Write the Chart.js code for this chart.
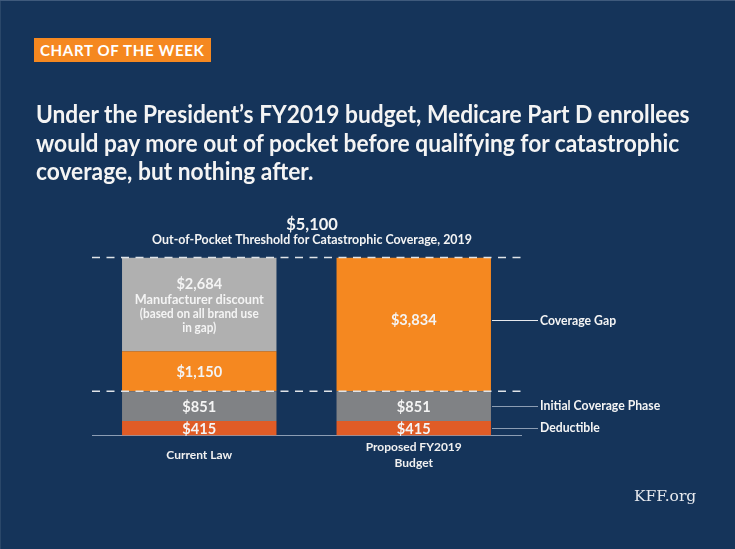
<!DOCTYPE html>
<html>
<head>
<meta charset="utf-8">
<script src="https://cdn.jsdelivr.net/npm/chart.js@4"></script>
<style>
  html, body { margin: 0; padding: 0; background: #15345a; }
  #wrap { position: relative; width: 735px; height: 549px; overflow: hidden; background: #15345a; box-shadow: inset 0 1px 0 #3f5a7c, inset 1px 0 0 #2a4769; }
  #badge { position: absolute; left: 34px; top: 38px; width: 177px; height: 24px; background: #f58820; }
  #badge span { position: absolute; left: 6px; top: 0; color: #fff; font: 700 16px/24px Lato, sans-serif; white-space: nowrap; letter-spacing: 0.7px; transform: scaleX(0.94); transform-origin: left center; }
  #headline { position: absolute; left: 36px; top: 100px; color: #f4f4f4; font: 700 24px/28.5px Lato, sans-serif; white-space: nowrap; transform: scaleX(0.948); transform-origin: left top; }
  #source { position: absolute; left: 634px; top: 487px; color: #e6e9ee; font: 400 15.5px "DejaVu Serif", serif; white-space: nowrap; }
  #chart { position: absolute; left: 0; top: 0; display: block; }
</style>
</head>
<body>
<div id="wrap">
  <canvas id="chart" width="735" height="549"></canvas>
  <div id="badge"><span>CHART OF THE WEEK</span></div>
  <div id="headline">Under the President’s FY2019 budget, Medicare Part D enrollees<br>would pay more out of pocket before qualifying for catastrophic<br>coverage, but nothing after.</div>
  <div id="source">KFF.org</div>
</div>
<script>
const categories = [["Current Law"], ["Proposed FY2019", "Budget"]];
const deductible = [415, 415];
const initialPhase = [851, 851];
const gap = [1150, 3834];
const discount = [2684, 0];
const threshold = 5100;
const thresholdTitle = "$5,100";
const thresholdNote = "Out-of-Pocket Threshold for Catastrophic Coverage, 2019";
const discountNote = ["Manufacturer discount", "(based on all brand use", "in gap)"];
const sideLabels = ["Deductible", "Initial Coverage Phase", "Coverage Gap"];

const money = v => "$" + v.toLocaleString("en-US");
const font = "Lato, sans-serif";

// the original face is narrower than Lato, so squeeze the text a little
function narrowText(ctx, text, x, y) {
  ctx.save();
  ctx.translate(x, y);
  ctx.scale(0.94, 1);
  ctx.fillText(text, 0, 0);
  ctx.restore();
}

// texts, dashed lines and leader lines, all hung on the chart's scales
const annotations = {
  id: "annotations",
  afterDatasetsDraw(chart) {
    const { ctx, scales: { y }, chartArea } = chart;
    ctx.save();
    ctx.textAlign = "center";
    ctx.textBaseline = "middle";

    // dashed lines
    ctx.strokeStyle = "#dfe3e8";
    ctx.lineWidth = 1.5;
    ctx.setLineDash([8, 6.5]);
    [threshold, deductible[0] + initialPhase[0]].forEach(v => {
      ctx.beginPath();
      ctx.moveTo(chartArea.left, y.getPixelForValue(v));
      ctx.lineTo(chartArea.right, y.getPixelForValue(v));
      ctx.stroke();
    });
    ctx.setLineDash([]);

    // value labels inside the bars
    ctx.fillStyle = "#f4f4f4";
    chart.data.datasets.forEach((ds, d) => {
      chart.getDatasetMeta(d).data.forEach((bar, i) => {
        const v = ds.data[i];
        if (!v) return;
        const mid = (bar.y + bar.base) / 2;
        ctx.font = "700 15.5px " + font;
        if (ds.data === discount) {
          narrowText(ctx, money(v), bar.x, mid - 20);
          ctx.font = "700 13.5px " + font;
          narrowText(ctx, discountNote[0], bar.x, mid - 5);
          ctx.font = "700 12.5px " + font;
          narrowText(ctx, discountNote[1], bar.x, mid + 10);
          narrowText(ctx, discountNote[2], bar.x, mid + 24);
        } else {
          // the tall orange block has its label set a little above centre
          narrowText(ctx, money(v), bar.x, mid + (v === gap[1] ? -4 : 1));
        }
      });
    });

    // threshold heading
    const topY = y.getPixelForValue(threshold);
    ctx.font = "700 17.5px " + font;
    narrowText(ctx, thresholdTitle, 312, topY - 33);
    ctx.font = "700 13.2px " + font;
    narrowText(ctx, thresholdNote, 312, topY - 18);

    ctx.textAlign = "left";
    ctx.font = "700 13px " + font;
    [0, 1, 2].forEach(d => {
      const bar = chart.getDatasetMeta(d).data[1];
      const mid = (bar.y + bar.base) / 2 + (d === 2 ? -4 : 0);
      const barRight = bar.x + bar.width / 2;
      ctx.strokeStyle = d === 2 ? "#e6e9ee" : "#8c9db3";
      ctx.lineWidth = 1;
      ctx.beginPath();
      ctx.moveTo(barRight + 1, Math.round(mid) + 0.5);
      ctx.lineTo(538, Math.round(mid) + 0.5);
      ctx.stroke();
      narrowText(ctx, sideLabels[d], 540, mid);
    });
    ctx.restore();
  }
};

new Chart(document.getElementById("chart"), {
  type: "bar",
  data: {
    labels: categories,
    datasets: [
      { label: "Deductible", data: deductible, backgroundColor: "#e05c26" },
      { label: "Initial Coverage Phase", data: initialPhase, backgroundColor: "#808285" },
      { label: "Coverage Gap", data: gap, backgroundColor: "#f58820" },
      { label: "Manufacturer discount", data: discount, backgroundColor: "#b0b0b0" }
    ]
  },
  options: {
    responsive: false,
    animation: false,
    events: [],
    datasets: { bar: { barPercentage: 0.72, categoryPercentage: 1 } },
    layout: { padding: { left: 92, right: 214, top: 257.5, bottom: 53.5 } },
    plugins: { legend: { display: false }, tooltip: { enabled: false } },
    scales: {
      x: {
        stacked: true,
        afterFit(scale) { scale.height = 60; },
        grid: { display: false, drawTicks: false },
        border: { color: "#8c9db3", width: 1 },
        ticks: { color: "#f0f0f0", font: { family: font, weight: "700", size: 12, lineHeight: 1.33 }, padding: 12, maxRotation: 0, crossAlign: "center" }
      },
      y: { stacked: true, min: 0, max: threshold, display: false }
    }
  },
  plugins: [annotations]
});
</script>
</body>
</html>
